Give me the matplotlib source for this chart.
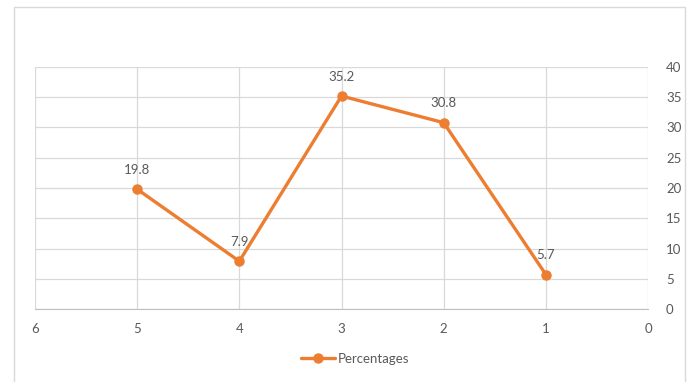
import matplotlib.pyplot as plt
from matplotlib.patches import Rectangle

# series values
positions = [5, 4, 3, 2, 1]
percentages = [19.8, 7.9, 35.2, 30.8, 5.7]
x_ticks = [6, 5, 4, 3, 2, 1, 0]
y_ticks = [0, 5, 10, 15, 20, 25, 30, 35, 40]

orange = '#ED7D31'
grid_col = '#D9D9D9'
text_col = '#595959'

plt.rcParams['font.family'] = ['Lato', 'DejaVu Sans']

fig = plt.figure(figsize=(6.9, 3.82), dpi=100)
# chart area border (runs off the bottom edge)
fig.patches.append(Rectangle((14 / 690, -0.02), 671 / 690, 1 - 7 / 382 + 0.02,
                             transform=fig.transFigure, fill=False,
                             edgecolor=grid_col, linewidth=1))

ax = fig.add_axes([35 / 690, 73 / 382, 613 / 690, 242 / 382])
ax.plot(positions, percentages, color=orange, linewidth=2.4, marker='o',
        markersize=6.5, label='Percentages', solid_capstyle='round', zorder=3)

for x, y in zip(positions, percentages):
    ax.annotate(f'{y}', (x, y), xytext=(0, 14), textcoords='offset points',
                ha='center', va='center', fontsize=9.5, color=text_col)

ax.set_xlim(6, 0)
ax.set_ylim(0, 40)
ax.set_xticks(x_ticks)
ax.set_yticks(y_ticks)
ax.yaxis.tick_right()
ax.grid(True, color=grid_col, linewidth=0.9)
ax.set_axisbelow(True)
for s in ['top', 'left', 'right']:
    ax.spines[s].set_visible(False)
ax.spines['bottom'].set_color('#BFBFBF')
ax.tick_params(length=0, labelsize=9.5, labelcolor=text_col)
ax.tick_params(axis='x', pad=10)
ax.tick_params(axis='y', pad=13)

fig.legend(loc='center', bbox_to_anchor=(355 / 690, 1 - 359 / 382), frameon=False,
           fontsize=9.5, labelcolor=text_col, handlelength=2.6, handletextpad=0.2)

fig.savefig('out.png', dpi=100)
